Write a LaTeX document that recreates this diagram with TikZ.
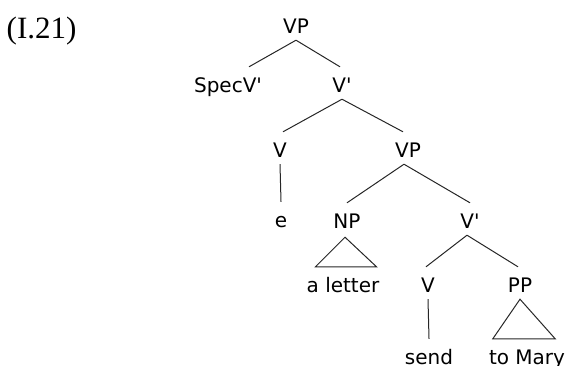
\documentclass[tikz,border=0pt]{standalone}
\usepackage{fontspec}
\setmainfont{DejaVu Sans}[Ligatures=TeXOff]
\newfontfamily\exfont{Liberation Serif}
\newcommand{\treefont}{\fontsize{20bp}{24bp}\selectfont}
\newcommand{\rise}{7bp}
\tikzstyle{category} = [% a labelled node of the tree
  anchor=base,
  inner xsep=1bp,
  inner ysep=3bp,
  text height=15bp,
  text depth=4bp,
  font=\treefont
  ]
\tikzstyle{leaf} = [% the words at the bottom
  category
  ]
\tikzstyle{exnum} = [% number of the example
  anchor=base west,
  inner sep=0pt,
  font=\exfont\fontsize{31bp}{36bp}\selectfont
  ]
\tikzstyle{branch} = [% lines between mother and daughter
  line width=1bp,
  draw=black!85
  ]
\tikzstyle{roof} = [% triangle over a phrase
  branch,
  line join=miter
  ]

\begin{document}
\begin{tikzpicture}[x=1bp, y=-1bp]
\useasboundingbox (0,0) rectangle (568,365);

%%% Nodes
\node[exnum] (ex) at (6.5,38) {(I.21)};
\node[category] (vp) at (296,33) {VP};
\node[category] (specv) at (228,92) {SpecV'};
\node[category] (vbar) at (342,92) {V'};
\node[category] (v) at (280,157) {V};
\node[category] (vpp) at (408,157) {VP};
\node[leaf] (e) at (281,227) {e};
\node[category] (np) at (347,228) {NP};
\node[category] (vbarr) at (470,228) {V'};
\node[leaf] (aletter) at (343,292) {a letter};
\node[category] (vv) at (428,292) {V};
\node[category] (pp) at (520,292) {PP};
\node[leaf] (send) at (429,364) {send};
\node[leaf] (tomary) at (527,364) {to Mary};

%%% Branches
\draw[branch] (vp.south) -- ([xshift=21bp,yshift=\rise]specv.north);
\draw[branch] (vp.south) -- ([xshift=-2bp,yshift=\rise]vbar.north);
\draw[branch] (vbar.south) -- ([xshift=3bp,yshift=\rise]v.north);
\draw[branch] (vbar.south) -- ([xshift=-5bp,yshift=\rise]vpp.north);
\draw[branch] (v.south) -- ([yshift=\rise]e.north);
\draw[branch] ([xshift=-4bp]vpp.south) -- ([yshift=\rise]np.north);
\draw[branch] ([xshift=-4bp]vpp.south) -- ([yshift=\rise]vbarr.north);
\draw[branch] ([xshift=-3bp]vbarr.south) -- ([xshift=-2bp,yshift=\rise]vv.north);
\draw[branch] ([xshift=-3bp]vbarr.south) -- ([xshift=-2bp,yshift=\rise]pp.north);
\draw[branch] (vv.south) -- ([yshift=\rise]send.north);

%%% Roofs
\draw[roof] ([xshift=-2bp,yshift=-2bp]np.south)
  -- ([xshift=10bp,yshift=\rise]aletter.north west)
  -- ([xshift=-4bp,yshift=\rise]aletter.north east) -- cycle;
\draw[roof] (pp.south)
  -- ([xshift=5bp,yshift=\rise]tomary.north west)
  -- ([xshift=-11bp,yshift=\rise]tomary.north east) -- cycle;

\end{tikzpicture}
\end{document}
